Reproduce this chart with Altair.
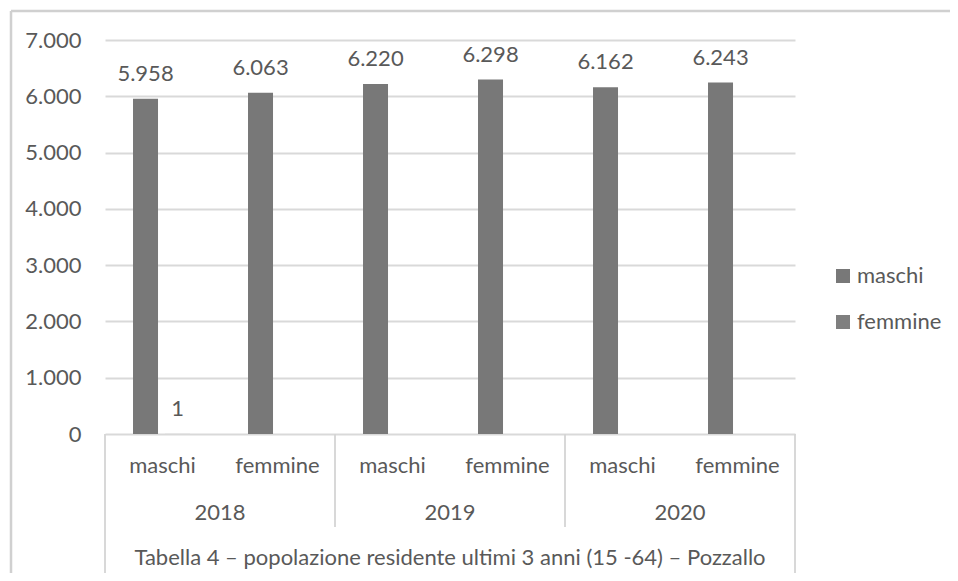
import altair as alt
import pandas as pd

# ---- data ----
years = ["2018", "2018", "2019", "2019", "2020", "2020"]
subs = ["maschi", "femmine", "maschi", "femmine", "maschi", "femmine"]
series_names = ["maschi", "femmine"]
maschi_vals = [5958, 6063, 6220, 6298, 6162, 6243]
femmine_vals = [1, None, None, None, None, None]
y_ticks = [0, 1000, 2000, 3000, 4000, 5000, 6000, 7000]
year_labels = ["2018", "2019", "2020"]
title_text = "Tabella 4 \u2013 popolazione residente ultimi 3 anni (15 -64) \u2013 Pozzallo"

cats = [f"{y} {s}" for y, s in zip(years, subs)]

rows = []
for i, c in enumerate(cats):
    for name, vals in (("maschi", maschi_vals), ("femmine", femmine_vals)):
        if vals[i] is not None:
            rows.append({"cat": c, "series": name, "value": vals[i]})
df = pd.DataFrame(rows)
df_sub = pd.DataFrame({"cat": cats, "sub": subs})
df_year = pd.DataFrame({"cat": [cats[0], cats[2], cats[4]], "year": year_labels})
df_outer_l = pd.DataFrame({"cat": [cats[0]]})
df_outer_r = pd.DataFrame({"cat": [cats[-1]]})
df_inner = pd.DataFrame({"cat": [cats[2], cats[4]]})
df_one = pd.DataFrame({"k": [0]})

FONT = "Lato"
TXT = "#595959"
GRID = "#d9d9d9"
FS = 22

W, H = 690, 394

xscale = alt.Scale(domain=cats, paddingInner=0, paddingOuter=0)
xoff_scale = alt.Scale(domain=series_names, paddingInner=0.21875, paddingOuter=0.90625, align=0.483)
yscale = alt.Scale(domain=[0, 7000], nice=False)

X = alt.X("cat:N", scale=xscale, axis=None, sort=cats)

bars = alt.Chart(df).mark_bar().encode(
    x=X,
    xOffset=alt.XOffset("series:N", scale=xoff_scale, sort=series_names),
    y=alt.Y("value:Q", scale=yscale, title=None,
            axis=alt.Axis(values=y_ticks, grid=True, gridColor=GRID, gridWidth=1.8,
                          domain=False, ticks=False, tickSize=0, labelPadding=24,
                          labelFont=FONT, labelFontSize=FS, labelColor=TXT,
                          labelExpr="replace(format(datum.value, ','), ',', '.')")),
    color=alt.Color("series:N", sort=series_names,
                    scale=alt.Scale(domain=series_names, range=["#787878", "#7f7f7f"]),
                    legend=alt.Legend(title=None, orient="none", legendX=727, legendY=225,
                                      symbolType="square", symbolSize=196, symbolStrokeWidth=0,
                                      labelFont=FONT, labelFontSize=FS, labelColor=TXT,
                                      labelOffset=3, rowPadding=24)),
)

labels = alt.Chart(df).transform_calculate(
    lbl="replace(format(datum.value, ','), ',', '.')"
).mark_text(font=FONT, fontSize=FS, color=TXT, baseline="alphabetic", dy=-18).encode(
    x=X,
    xOffset=alt.XOffset("series:N", scale=xoff_scale, sort=series_names),
    y=alt.Y("value:Q", scale=yscale),
    text="lbl:N",
)

sub_text = alt.Chart(df_sub).mark_text(font=FONT, fontSize=FS, color=TXT, baseline="alphabetic").encode(
    x=X, y=alt.value(H + 39), text="sub:N"
)
year_text = alt.Chart(df_year).mark_text(font=FONT, fontSize=FS, color=TXT, baseline="alphabetic").encode(
    x=alt.X("cat:N", scale=xscale, axis=None, sort=cats, bandPosition=1),
    y=alt.value(H + 86), text="year:N"
)
title_mark = alt.Chart(pd.DataFrame({"t": [title_text]})).mark_text(
    font=FONT, fontSize=FS, color=TXT, baseline="alphabetic"
).encode(x=alt.value(W / 2), y=alt.value(H + 131), text="t:N")

RULE_C = "#d4d4d4"
outer_l = alt.Chart(df_outer_l).mark_rule(color=RULE_C, strokeWidth=1.8).encode(
    x=alt.X("cat:N", scale=xscale, axis=None, sort=cats, bandPosition=0),
    y=alt.value(H), y2=alt.value(H + 140))
outer_r = alt.Chart(df_outer_r).mark_rule(color=RULE_C, strokeWidth=1.8).encode(
    x=alt.X("cat:N", scale=xscale, axis=None, sort=cats, bandPosition=1),
    y=alt.value(H), y2=alt.value(H + 140))
inner = alt.Chart(df_inner).mark_rule(color=RULE_C, strokeWidth=1.8).encode(
    x=alt.X("cat:N", scale=xscale, axis=None, sort=cats, bandPosition=0),
    y=alt.value(H), y2=alt.value(H + 93))

# outer chart border (decoration)
border_top = alt.Chart(df_one).mark_rule(color="#d0d0d0", strokeWidth=2.5).encode(
    x=alt.value(-94), x2=alt.value(845), y=alt.value(-29), y2=alt.value(-29))
border_left = alt.Chart(df_one).mark_rule(color="#d0d0d0", strokeWidth=2.5).encode(
    x=alt.value(-94), x2=alt.value(-94), y=alt.value(-29), y2=alt.value(560))

chart = alt.layer(
    border_top, border_left, bars, labels, sub_text, year_text, title_mark, outer_l, outer_r, inner
).properties(
    width=W, height=H,
    autosize=alt.AutoSizeParams(type="none"),
    padding={"left": 97, "top": 32, "right": 155, "bottom": 139},
    background="white",
).configure_view(stroke=None)

chart.save("out.html", embed_options={"renderer": "svg", "actions": False})
